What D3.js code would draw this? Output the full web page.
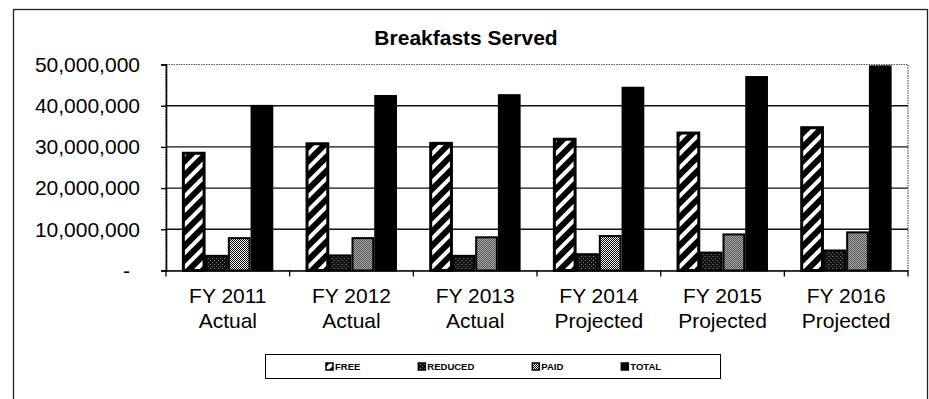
<!DOCTYPE html>
<html>
<head>
<meta charset="utf-8">
<script src="https://cdn.jsdelivr.net/npm/d3@7"></script>
<style>
  html, body { margin: 0; padding: 0; background: #fff; }
  svg { display: block; font-family: "Liberation Sans", Arial, sans-serif; }
</style>
</head>
<body>
<svg id="chart" width="929" height="399"></svg>
<script>
// ---- data ----
const categories = ["FY 2011|Actual", "FY 2012|Actual", "FY 2013|Actual", "FY 2014|Projected", "FY 2015|Projected", "FY 2016|Projected"];
const seriesNames = ["FREE", "REDUCED", "PAID", "TOTAL"];
const free    = [28700000, 31000000, 31100000, 32100000, 33600000, 34900000];
const reduced = [3800000, 3900000, 3800000, 4200000, 4600000, 5100000];
const paid    = [8100000, 8100000, 8300000, 8600000, 9000000, 9500000];
const total   = [40200000, 42600000, 42800000, 44600000, 47200000, 49800000];
const yTicks  = [0, 10000000, 20000000, 30000000, 40000000, 50000000];
const title   = "Breakfasts Served";

const seriesValues = { FREE: free, REDUCED: reduced, PAID: paid, TOTAL: total };

const svg = d3.select("#chart");
const defs = svg.append("defs");

// patterns
const pStripe = defs.append("pattern").attr("id", "pat-free")
  .attr("patternUnits", "userSpaceOnUse").attr("width", 10).attr("height", 10)
  .attr("patternTransform", "rotate(45)");
pStripe.append("rect").attr("width", 10).attr("height", 10).attr("fill", "#000");
pStripe.append("rect").attr("width", 4).attr("height", 10).attr("fill", "#fff");

const pRed = defs.append("pattern").attr("id", "pat-reduced")
  .attr("patternUnits", "userSpaceOnUse").attr("width", 4).attr("height", 4);
pRed.append("rect").attr("width", 4).attr("height", 4).attr("fill", "#111");
pRed.append("rect").attr("x", 0).attr("y", 0).attr("width", 1).attr("height", 1).attr("fill", "#999");
pRed.append("rect").attr("x", 2).attr("y", 2).attr("width", 1).attr("height", 1).attr("fill", "#777");

const pPaid = defs.append("pattern").attr("id", "pat-paid")
  .attr("patternUnits", "userSpaceOnUse").attr("width", 2).attr("height", 2);
pPaid.append("rect").attr("width", 2).attr("height", 2).attr("fill", "#fff");
pPaid.append("rect").attr("x", 0).attr("y", 0).attr("width", 1).attr("height", 1).attr("fill", "#000");
pPaid.append("rect").attr("x", 1).attr("y", 1).attr("width", 1).attr("height", 1).attr("fill", "#000");

const fills = { FREE: "url(#pat-free)", REDUCED: "url(#pat-reduced)", PAID: "url(#pat-paid)", TOTAL: "#000" };

// outer border
svg.append("rect").attr("x", 13.5).attr("y", 9.5).attr("width", 914).attr("height", 400)
  .attr("fill", "none").attr("stroke", "#222").attr("stroke-width", 1.3);

// scales
const plot = { left: 166, right: 908, top: 64.5, bottom: 270.5 };
const x0 = d3.scaleBand().domain(categories).range([plot.left, plot.right]).padding(0);
const x1 = d3.scaleBand().domain(seriesNames).range([0, x0.bandwidth()]).paddingInner(0).paddingOuter(0.72);
const y = d3.scaleLinear().domain([0, 50000000]).range([plot.bottom, plot.top]);

// title
svg.append("text").attr("x", 466).attr("y", 45).attr("text-anchor", "middle")
  .attr("font-size", 21).attr("font-weight", "bold").attr("fill", "#000").text(title);

// plot area border (top/right dotted)
svg.append("rect").attr("x", plot.left).attr("y", plot.top).attr("width", plot.right - plot.left)
  .attr("height", plot.bottom - plot.top).attr("fill", "none")
  .attr("stroke", "#555").attr("stroke-width", 1.2).attr("stroke-dasharray", "1.5,1");

// gridlines
svg.append("g").selectAll("line").data(yTicks.filter(d => d > 0 && d < 50000000)).join("line")
  .attr("x1", plot.left).attr("x2", plot.right)
  .attr("y1", d => y(d)).attr("y2", d => y(d))
  .attr("stroke", "#111").attr("stroke-width", 1.4);

// bars
const groups = svg.append("g").selectAll("g").data(categories).join("g")
  .attr("transform", d => `translate(${x0(d)},0)`);
groups.selectAll("rect").data((c, i) => seriesNames.map(s => ({ s, v: seriesValues[s][i] }))).join("rect")
  .attr("x", d => x1(d.s) + 1)
  .attr("width", x1.bandwidth() - 2)
  .attr("y", d => y(d.v) + 1)
  .attr("height", d => y(0) - y(d.v) - 1)
  .attr("fill", d => fills[d.s])
  .attr("stroke", "#000")
  .attr("stroke-width", d => d.s === "FREE" ? 3 : 2);

// y axis
const yAxis = d3.axisLeft(y).tickValues(yTicks).tickSize(5).tickPadding(0)
  .tickFormat(d => d === 0 ? "-" : d3.format(",")(d));
const gy = svg.append("g").attr("transform", `translate(${plot.left},0)`).call(yAxis);
gy.select(".domain").attr("stroke", "#000").attr("stroke-width", 1.6);
gy.selectAll(".tick line").attr("stroke", "#000").attr("stroke-width", 1.4);
gy.selectAll(".tick text").attr("font-size", 21).attr("fill", "#000")
  .attr("font-family", "Liberation Sans, Arial, sans-serif")
  .attr("x", d => d === 0 ? -36 : -26);

// x axis
const xAxis = d3.axisBottom(x0).tickSize(0).tickFormat(() => "");
const gx = svg.append("g").attr("transform", `translate(0,${plot.bottom})`).call(xAxis);
gx.select(".domain").attr("stroke", "#000").attr("stroke-width", 1.6);
// boundary ticks
const bounds = categories.map(c => x0(c)).concat([plot.right]);
gx.append("g").selectAll("line").data(bounds).join("line")
  .attr("x1", d => d).attr("x2", d => d).attr("y1", 0).attr("y2", 6)
  .attr("stroke", "#000").attr("stroke-width", 1.3);
// category labels
const lbl = svg.append("g").selectAll("text").data(categories).join("text")
  .attr("x", d => x0(d) + x0.bandwidth() / 2)
  .attr("text-anchor", "middle").attr("font-size", 21).attr("fill", "#000");
lbl.append("tspan").attr("x", d => x0(d) + x0.bandwidth() / 2).attr("y", 303).text(d => d.split("|")[0]);
lbl.append("tspan").attr("x", d => x0(d) + x0.bandwidth() / 2).attr("y", 328).text(d => d.split("|")[1]);

// legend
const lg = svg.append("g");
lg.append("rect").attr("x", 265.5).attr("y", 354.5).attr("width", 455).attr("height", 24)
  .attr("fill", "#fff").attr("stroke", "#000").attr("stroke-width", 1);
let lx = 326;
seriesNames.forEach(s => {
  lg.append("rect").attr("x", lx).attr("y", 363).attr("width", 7).attr("height", 7)
    .attr("fill", fills[s]).attr("stroke", "#000").attr("stroke-width", 1.5);
  const t = lg.append("text").attr("x", lx + 9).attr("y", 370).attr("font-size", 9.5)
    .attr("font-weight", "bold").attr("fill", "#000").text(s);
  lx += 9 + t.node().getComputedTextLength() + 58;
});
</script>
</body>
</html>
